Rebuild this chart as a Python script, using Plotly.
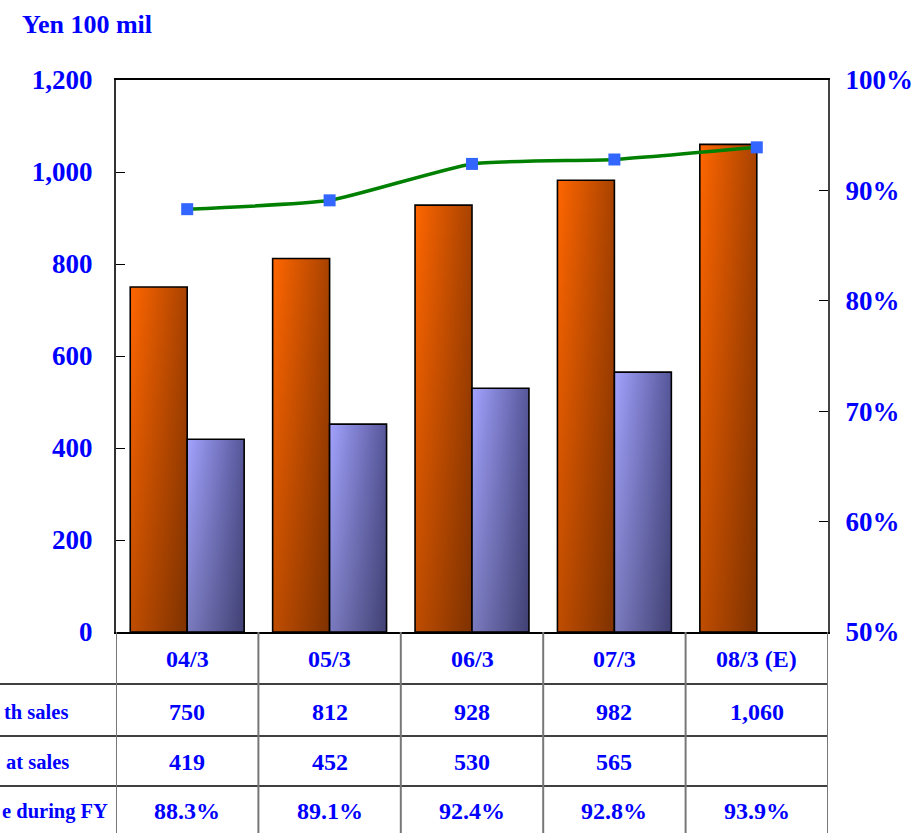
import plotly.graph_objects as go

# ---- data -------------------------------------------------------------
periods = ["04/3", "05/3", "06/3", "07/3", "08/3 (E)"]
growth_sales = [750, 812, 928, 982, 1060]
repeat_sales = [419, 452, 530, 565, None]
rate_during_fy = [88.3, 89.1, 92.4, 92.8, 93.9]
left_ticks = [0, 200, 400, 600, 800, 1000, 1200]
right_ticks = [50, 60, 70, 80, 90, 100]
row_labels = ["th sales", "at sales", "e during FY"]

# ---- page geometry (pixels) ------------------------------------------
W, H = 915, 833
L, R, T, B = 116, 828, 80, 632
BLUE = "#0000FF"
FONT = "Liberation Serif"


def px_x(px):
    return (px - L) / (R - L)


def px_y(py):
    return (B - py) / (B - T)


BAR_W = 0.4

fig = go.Figure()


def add_bar(x0, x1, v, left_c, right_c):
    xs = [x0, x0, x1, x1, x0]
    ys = [0, v, v, 0, 0]
    # horizontal shading, light on the left side
    fig.add_trace(go.Scatter(
        x=xs, y=ys, mode="lines", fill="toself", line=dict(width=0),
        fillgradient=dict(type="horizontal",
                          colorscale=[[0, left_c], [1, right_c]]),
        hoverinfo="skip", showlegend=False))
    # darker toward the base, plus the black outline
    fig.add_trace(go.Scatter(
        x=xs, y=ys, mode="lines", fill="toself",
        line=dict(color="#000000", width=1.6),
        fillgradient=dict(type="vertical",
                          colorscale=[[0, "rgba(0,0,0,0.25)"],
                                      [1, "rgba(0,0,0,0)"]]),
        hoverinfo="skip", showlegend=False))


for i, (g, r) in enumerate(zip(growth_sales, repeat_sales)):
    add_bar(i - BAR_W, i, g, "#FF6600", "#A84200")
    if r is not None:
        add_bar(i, i + BAR_W, r, "#A3A3FF", "#56569A")

# repeat-rate line on the right axis
fig.add_trace(go.Scatter(
    x=list(range(len(periods))), y=rate_during_fy, yaxis="y2",
    mode="lines+markers",
    line=dict(color="#008000", width=3.5, shape="spline", smoothing=0.5),
    marker=dict(symbol="square", size=12, color="#3366FF"),
    hoverinfo="skip", showlegend=False))

axis_font = dict(family=FONT, size=27, color=BLUE, weight="bold")

fig.update_layout(
    width=W, height=H,
    margin=dict(l=L, r=W - R, t=T, b=H - B),
    paper_bgcolor="white", plot_bgcolor="white",
    showlegend=False,
    xaxis=dict(range=[-0.5, len(periods) - 0.5], showticklabels=False,
               showgrid=False, zeroline=False, ticks="",
               showline=True, linecolor="#000000", linewidth=1.5,
               mirror=True, automargin=False),
    yaxis=dict(range=[0, 1200], tickvals=left_ticks,
               ticktext=[f"<b>{v:,}</b>" for v in left_ticks],
               showgrid=False, zeroline=False, automargin=False,
               ticks="inside", ticklen=9, tickcolor="#000000",
               showline=True, linecolor="#333333", linewidth=2,
               tickfont=axis_font, ticklabelstandoff=16),
    yaxis2=dict(range=[50, 100], tickvals=right_ticks,
                ticktext=[f"<b>{v}%</b>" for v in right_ticks],
                overlaying="y", side="right", automargin=False,
                showgrid=False, zeroline=False,
                ticks="inside", ticklen=9, tickcolor="#000000",
                showline=True, linecolor="#444444", linewidth=2,
                tickfont=axis_font, ticklabelstandoff=10),
)

# unit title
fig.add_annotation(text="<b>Yen 100 mil</b>", xref="paper", yref="paper",
                   x=px_x(20), y=px_y(24), xanchor="left", yanchor="middle",
                   showarrow=False,
                   font=dict(family=FONT, size=26, color=BLUE))

# ---- data table under the plot ---------------------------------------
row_lines = [684, 736, 786]
bottom = H + 5
for py in row_lines:
    fig.add_shape(type="line", xref="paper", yref="paper",
                  x0=px_x(-5), x1=1, y0=px_y(py), y1=px_y(py),
                  line=dict(color="#000000", width=1.5))
for k in range(len(periods) + 1):
    fig.add_shape(type="line", xref="x", yref="paper",
                  x0=k - 0.5, x1=k - 0.5, y0=0, y1=px_y(bottom),
                  line=dict(color="#777777", width=2))

cell_font = dict(family=FONT, size=24, color=BLUE)
row_centers = [659, 712, 762, 811]
rows = [
    periods,
    [f"{v:,}" for v in growth_sales],
    ["" if v is None else f"{v:,}" for v in repeat_sales],
    [f"{v:.1f}%" for v in rate_during_fy],
]
for row, cy in zip(rows, row_centers):
    for i, txt in enumerate(row):
        if txt:
            fig.add_annotation(text=f"<b>{txt}</b>", xref="x", yref="paper",
                               x=i, y=px_y(cy), xanchor="center",
                               yanchor="middle", showarrow=False,
                               font=cell_font)

label_right = [70, 71, 110]
label_font = dict(family=FONT, size=20.5, color=BLUE)
for txt, rx, cy in zip(row_labels, label_right, row_centers[1:]):
    fig.add_annotation(text=f"<b>{txt}</b>", xref="paper", yref="paper",
                       x=px_x(rx), y=px_y(cy), xanchor="right",
                       yanchor="middle", showarrow=False, font=label_font)

fig.write_html("out.html")
